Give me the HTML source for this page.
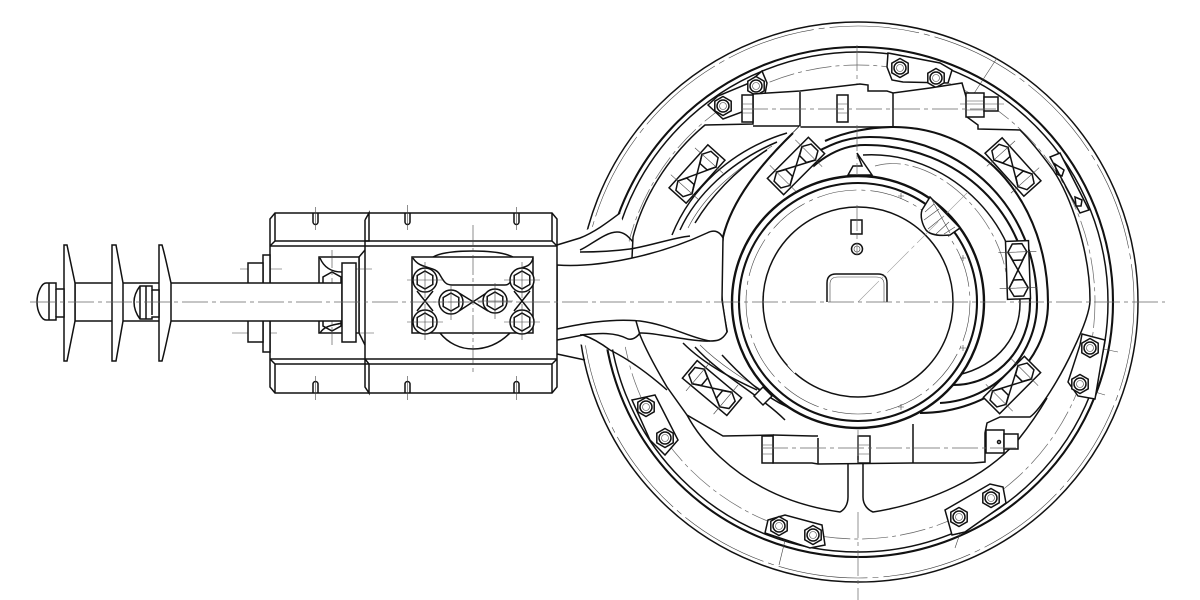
<!DOCTYPE html>
<html><head><meta charset="utf-8"><title>Drawing</title>
<style>
html,body{margin:0;padding:0;background:#fff}
svg{display:block}
.o{fill:none;stroke:#111;stroke-width:1.5}
.k{fill:none;stroke:#111;stroke-width:2.1}
.w{fill:#fff;stroke:#111;stroke-width:1.5}
.t{fill:none;stroke:#444;stroke-width:.6}
.c{fill:none;stroke:#666;stroke-width:.7;stroke-dasharray:26 4 4 4}
</style></head><body>
<svg width="1200" height="600" viewBox="0 0 1200 600" xmlns="http://www.w3.org/2000/svg">
<defs>
<g id="nut"><polygon points="0,-9.5 8.2,-4.8 8.2,4.8 0,9.5 -8.2,4.8 -8.2,-4.8" class="w"/><circle r="6" class="o"/><circle r="3.5" class="t"/></g>
<g id="bt">
<rect x="-29" y="-11.500" width="58" height="23" class="w"/>
<polygon points="-18,-9.500 -9.800,-4.800 -9.800,4.800 -18,9.500 -26.200,4.800 -26.200,-4.800" class="o"/>
<polygon points="18,-9.500 26.200,-4.800 26.200,4.800 18,9.500 9.800,4.800 9.800,-4.800" class="o"/>
<path d="M-18,-9.500L18,9.500M-18,9.500L18,-9.500" class="o"/>
<path d="M-18,-19V19M18,-19V19" class="t"/>
</g>
<g id="hb"><circle r="12" class="w"/><polygon points="0,-9 7.800,-4.500 7.800,4.500 0,9 -7.800,4.500 -7.800,-4.500" class="o"/><path d="M-18,0H18M0,-18V18" class="t"/></g>
</defs>
<rect width="1200" height="600" fill="#fff"/>

<!-- outer ring -->
<circle cx="858" cy="302" r="280" class="o"/>
<circle cx="858" cy="302" r="276" class="t" stroke-dasharray="90 5 6 5"/>
<circle cx="858" cy="302" r="255" class="k"/>
<circle cx="858" cy="302" r="250" class="o"/>
<circle cx="858" cy="302" r="237" class="c"/>
<path d="M997,58L973,95M1118,352L1083,345M1105,395L1082,388M779,565L790,520M955,548L968,510" class="t"/>

<!-- hide rings behind arm root -->
<path d="M557,245L620,213L660,340L610,350L557,340Z" fill="#fff"/>
<path d="M557,245L580,238C595,232 608,222 620,213" class="o"/>
<path d="M557,340L583,335C592,338 602,344 610,350" class="o"/>
<path d="M557,354L585,360" class="o"/>

<!-- nut plates outer ring -->
<polygon points="708,105 718,96 747,84 762,71 767,83 765,94 742,112 723,119" class="w"/>
<polygon points="888,53 887,67 892,80 903,82 948,83 952,70 940,63" class="w"/>
<polygon points="1082,334 1105,340 1095,399 1078,396 1068,382 1080,345" class="w"/>
<polygon points="945,510 990,484 1003,487 1006,503 965,532 952,535" class="w"/>
<polygon points="632,400 655,395 678,440 665,455 650,440" class="w"/>
<polygon points="768,520 785,515 822,525 825,545 810,548 765,533" class="w"/>
<use href="#nut" x="723" y="106"/><use href="#nut" x="756" y="86"/>
<use href="#nut" x="900" y="68"/><use href="#nut" x="936" y="78"/>
<use href="#nut" x="1090" y="348"/><use href="#nut" x="1080" y="384"/>
<use href="#nut" x="991" y="498"/><use href="#nut" x="959" y="517"/>
<use href="#nut" x="646" y="407"/><use href="#nut" x="665" y="438"/>
<use href="#nut" x="779" y="526"/><use href="#nut" x="813" y="535"/>

<!-- lower web arc -->
<path d="M1047,398C1040,410 1030,425 1018,440C985,478 930,503 873,512C868,510 863,505 863,497V463M848,463V497C848,505 844,510 840,512C790,505 750,485 720,457C705,443 695,430 687,415" class="o"/>

<!-- yoke -->
<path class="w" d="M753,124L705,125C675,150 645,190 633,237L630,300L640,335C648,355 660,375 667,387L687,415L723,436L773,435V463H812L818,464L912,463L973,463L985,462V433L987,423L1000,417H1027L1030,417C1040,410 1060,378 1073,350C1085,325 1090,310 1090,300C1090,250 1070,195 1053,170C1042,155 1030,140 1020,130L978,129V125L967,117V100L962,83L930,88L893,93L887,91H868V85L860,84L800,91L753,94Z"/>
<path d="M580,250C590,246 605,232 617,232C624,232 628,236 633,242" class="o"/>
<path d="M610,350C630,360 650,375 667,390" class="o"/>
<path d="M800,92V126M893,93V127M913,463V424M818,464V438" class="o"/>
<path d="M800,126H753M800,126L793,133M893,127H800" class="o"/>
<path d="M812,436L773,435M812,436H818" class="o"/>

<!-- clamp bolts -->
<rect x="742" y="95" width="11" height="27" class="w"/><path d="M742,104H753M742,113H753" class="t"/>
<rect x="837" y="95" width="11" height="27" class="w"/><path d="M837,104H848M837,113H848" class="t"/>
<rect x="966" y="93" width="18" height="24" class="w"/><rect x="984" y="97" width="14" height="14" class="w"/><path d="M966,101H984M966,110H984M960,104H1004" class="t"/>
<rect x="762" y="436" width="11" height="27" class="w"/><path d="M762,445H773M762,454H773" class="t"/>
<rect x="858" y="436" width="12" height="27" class="w"/><path d="M858,445H870M858,454H870" class="t"/>
<rect x="986" y="430" width="18" height="23" class="w"/><rect x="1004" y="434" width="14" height="15" class="w"/><circle cx="999" cy="442" r="1.500" class="o"/>
<path d="M742,109H1000M762,448H1020" class="c"/>

<!-- inner eccentric rings -->
<path class="o" d="M672,235C690,190 730,150 787,133"/>
<path class="o" d="M680,230C696,195 730,162 777,142"/>
<path class="t" d="M688,228C704,196 732,172 772,146"/>
<path class="o" d="M695,223C710,198 735,170 767,150"/>
<path class="k" d="M825,141C845,132 870,127 893,127C985,127 1048,205 1048,303C1048,365 990,413 920,413"/>
<path class="k" d="M815,153C835,142 850,137 870,137C965,137 1037,210 1037,303C1037,355 995,400 940,403"/>
<path class="k" d="M790,192C810,165 835,145 865,145C960,145 1030,215 1030,303C1030,345 1000,385 953,385"/>
<path class="o" d="M863,155C945,150 1020,220 1020,303C1020,335 1000,365 958,375"/>
<path class="c" d="M875,166C930,150 1005,215 1008,290"/>
<path class="o" d="M683,343C705,365 735,380 757,390"/>
<path class="o" d="M695,347C720,375 760,395 785,420"/>
<path class="t" d="M700,345C720,365 745,380 770,395"/>
<path class="o" d="M722,355C745,380 768,400 795,410"/>

<!-- wedge -->
<path d="M857,153L872,175H848L853,166H862Z" class="w"/>

<!-- arm and big curve fill -->
<path d="M800,126L793,133C760,165 723,230 722,300L727,332L800,400L858,302Z" fill="#fff"/>
<path class="k" d="M793,133C760,165 732,200 723,237C720,260 720,285 722,300C723,312 725,322 727,332"/>
<path d="M557,265C600,268 660,255 707,233C715,229 720,232 723,238L722,300L727,332C722,341 716,341 710,341C690,338 670,325 640,321C610,318 580,324 557,329Z" class="w"/>
<path d="M580,252C600,252 615,251 630,249C650,246 672,238 690,236" class="o"/>
<path d="M580,335C600,333 615,332 628,339C633,340 637,337 640,333C655,332 690,342 710,341" class="o"/>

<!-- plates -->
<use href="#bt" transform="translate(697,174) rotate(132)"/>
<use href="#bt" transform="translate(796,166) rotate(135)"/>
<use href="#bt" transform="translate(1013,167) rotate(48)"/>
<use href="#bt" transform="translate(1018,270) rotate(88)"/>
<use href="#bt" transform="translate(1012,385) rotate(135)"/>
<use href="#bt" transform="translate(712,388) rotate(40)"/>
<polygon points="1060,153 1089,210 1080,213 1050,157" class="w"/>
<path d="M1055,164L1064,170L1062,176L1057,174ZM1075,197L1082,200L1081,206L1076,206Z" class="o"/>
<polygon points="763,387 772,396 763,405 754,396" class="w"/>

<!-- hub -->
<circle cx="858" cy="302" r="126" class="w" style="stroke-width:2.400"/>
<circle cx="858" cy="302" r="119" class="k"/>
<circle cx="858" cy="302" r="112" class="t" stroke-dasharray="40 5 4 5"/>
<circle cx="858" cy="302" r="95" class="o"/>
<path d="M789,364L796,372" stroke="#fff" stroke-width="4" fill="none"/>
<path d="M922,210L930,197L960,228L950,235C940,236 930,235 926,230C922,224 920,216 922,210Z" class="w"/>
<path d="M925,212L934,204M924,220L939,209M928,229L944,216M936,234L949,222M944,234L955,227M932,200L950,233" class="t"/>
<path d="M827,302V283Q827,274 836,274H878Q887,274 887,283V302" class="o"/>
<path d="M830,302V284Q830,277 838,277H876Q884,277 884,284V302" class="t"/>
<rect x="851" y="220" width="11" height="14" class="o"/>
<circle cx="857" cy="249" r="5.500" class="o"/><circle cx="857" cy="249" r="3" class="t"/>
<path d="M968,192L858,302" stroke="#999" stroke-width=".6" stroke-dasharray="30 4 4 4" fill="none"/>
<path d="M898,196h6M901,193v6M960,258h6M963,255v6M960,348h6M963,345v6M898,407h6M901,404v6" class="t"/>

<!-- block -->
<path d="M270,219L275,213H552L557,219V387L552,393H275L270,387Z" class="w"/>
<path class="o" d="M270,246H557M270,359H557M275,241H552M275,364H552"/>
<path class="o" d="M275,213V241L270,246M552,213V241L557,246M275,393V364L270,359M552,393V364L557,359"/>
<path class="o" d="M365,220L369,213V241L365,241M365,220V387L369,393V364L365,359"/>
<path class="o" d="M359,257L365,250M359,257V333L365,345"/>
<g class="o"><path d="M313,213V222A2.500,2.500 0 0 0 318,222V213"/><path d="M405,213V222A2.500,2.500 0 0 0 410,222V213"/><path d="M514,213V222A2.500,2.500 0 0 0 519,222V213"/><path d="M313,393V384A2.500,2.500 0 0 1 318,384V393"/><path d="M405,393V384A2.500,2.500 0 0 1 410,384V393"/><path d="M514,393V384A2.500,2.500 0 0 1 519,384V393"/></g>
<path class="t" d="M315.500,207V230M407.500,205V230M516.500,207V230M315.500,376V400M407.500,376V400M516.500,376V400"/>

<!-- window -->
<rect x="319" y="257" width="40" height="76" class="w"/>
<path d="M320,258C325,270 335,272 342,272M320,333C325,325 335,325 342,323" class="o"/>
<polygon points="332,272 341,277 341,290 323,290 323,277" class="o"/>
<polygon points="332,331 341,326 341,315 323,315 323,326" class="o"/>
<path d="M332,250V345" class="t" stroke-dasharray="18 3 4 3"/>
<path d="M240,269H282M355,269H372M232,333H277M356,333H377" class="t" stroke-dasharray="18 3 4 3"/>

<!-- plate with disc -->
<path d="M433,257C440,253 455,251 473,251C491,251 505,253 513,257M440,333C448,343 460,349 473,349C488,349 500,343 510,333" class="o"/>
<rect x="412" y="257" width="121" height="76" class="o"/>
<path d="M413,258C420,270 435,265 440,275C444,282 446,285 452,285H505C510,285 512,280 515,272C520,265 530,270 533,258" class="o"/>
<path d="M417,291L433,311M433,291L417,311M530,291L514,311M514,291L530,311M459,293L488,311M459,311L488,292" class="o"/>
<use href="#hb" x="425" y="280"/><use href="#hb" x="425" y="322"/><use href="#hb" x="522" y="280"/><use href="#hb" x="522" y="322"/><use href="#hb" x="451" y="302"/><use href="#hb" x="495" y="301"/>
<path d="M473,225V375" class="t" stroke-dasharray="20 3 4 3"/>

<!-- shaft -->
<rect x="263" y="255" width="7" height="97" class="w"/>
<rect x="248" y="263" width="15" height="79" class="w"/>
<rect x="75" y="283" width="267" height="38" class="w"/>
<rect x="342" y="263" width="14" height="79" class="w"/>
<path d="M64,245H67L75,283V321L67,361H64Z" class="w"/>
<path d="M112,245H116L123,283V321L116,361H112Z" class="w"/>
<path d="M159,245H162C165,255 168,270 171,283V321C168,335 165,350 162,361H159Z" class="w"/>
<path d="M64,289H56V283H46C42,283 37,292 37,302C37,312 42,320 46,320H56V317H64Z" class="w"/>
<path d="M49,283V320M56,289V317" class="o"/>
<path d="M159,290H152V286H140C137,290 134,296 134,302C134,310 137,315 140,319H152V317H159Z" class="w"/>
<path d="M140,286V319M146,286V319M152,290V315" class="o"/>

<!-- centre lines -->
<path d="M30,302H1165" class="c"/>
<path d="M857,125V175M857,205V255M858,430V463M858,512V600" class="c"/>
<path d="M857,45V84" class="c"/>
</svg>
</body></html>
